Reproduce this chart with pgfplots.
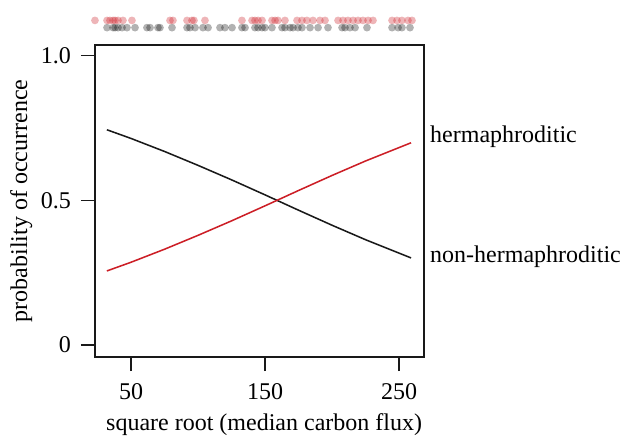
\documentclass[border=0pt]{standalone}
\usepackage{fontspec}
\setmainfont{Liberation Serif}
\usepackage{pgfplots}
\pgfplotsset{compat=1.18}

\definecolor{herm}{RGB}{204,30,38}
\definecolor{nonherm}{RGB}{25,25,25}

\begin{document}
\begin{tikzpicture}[x=1pt,y=1pt]
% picture is 620x435 px, 1px = 0.75pt
\useasboundingbox (-71.25,-58.5) rectangle (393.75,267.75);
\begin{axis}[
  at={(0,0)}, anchor=south west,
  scale only axis,
  width=246.75pt, height=234pt,
  xmin=23.13, xmax=268.66,
  ymin=-0.0415, ymax=1.037,
  clip=false,
  axis line style={line width=1.1pt, color=nonherm},
  every tick/.style={line width=1.1pt, color=nonherm},
  tick align=outside,
  tick pos=left,
  major tick length=10.5pt,
  xtick={50,150,250},
  ytick={0,0.5,1},
  yticklabels={0,0.5,1.0},
  font=\fontsize{18}{21}\selectfont,
  /pgf/number format/assume math mode=true,
  xticklabel style={yshift=-6pt},
  yticklabel style={xshift=-4pt},
  xlabel={square root (median carbon flux)},
  xlabel style={at={(axis description cs:0.514,-0.237)}, anchor=base},
  ylabel={probability of occurrence},
  ylabel style={at={(axis description cs:-0.224,0.5)}, anchor=center},
]
% rug of observations (hermaphroditic)
\addplot [only marks, mark=*, mark size=2.9pt, color=herm,
  mark options={line width=0pt, draw opacity=0, fill=herm, fill opacity=0.33}]
coordinates {
(23.1,1.122) (32.1,1.122) (34.3,1.122) (36.6,1.122) (38.1,1.122) (40.3,1.122)
(44.0,1.122) (50.7,1.122) (79.1,1.122) (81.3,1.122) (91.8,1.122) (95.5,1.122)
(97.0,1.122) (105.2,1.122) (132.8,1.122) (140.3,1.122) (142.5,1.122) (144.8,1.122)
(147.8,1.122) (155.2,1.122) (157.5,1.122) (159.7,1.122) (164.9,1.122) (173.9,1.122)
(177.6,1.122) (181.3,1.122) (185.8,1.122) (191.0,1.122) (194.8,1.122) (204.5,1.122)
(208.2,1.122) (211.9,1.122) (215.7,1.122) (219.4,1.122) (223.1,1.122) (226.9,1.122)
(230.6,1.122) (244.8,1.122) (248.5,1.122) (252.2,1.122) (256.7,1.122) (259.7,1.122)
};
% rug of observations (non-hermaphroditic)
\addplot [only marks, mark=*, mark size=2.9pt, color=black,
  mark options={line width=0pt, draw opacity=0, fill=black, fill opacity=0.3}]
coordinates {
(32.1,1.097) (36.6,1.097) (38.1,1.097) (40.3,1.097) (43.3,1.097) (47.0,1.097)
(53.0,1.097) (61.9,1.097) (64.2,1.097) (70.1,1.097) (71.6,1.097) (80.6,1.097)
(91.8,1.097) (94.0,1.097) (97.8,1.097) (103.7,1.097) (107.5,1.097) (116.4,1.097)
(120.1,1.097) (125.4,1.097) (132.8,1.097) (135.1,1.097) (142.5,1.097) (144.8,1.097)
(147.8,1.097) (150.0,1.097) (155.2,1.097) (162.7,1.097) (164.9,1.097) (168.7,1.097)
(170.9,1.097) (174.6,1.097) (177.6,1.097) (183.6,1.097) (189.6,1.097) (197.0,1.097)
(207.5,1.097) (209.7,1.097) (213.4,1.097) (217.2,1.097) (226.1,1.097) (244.8,1.097)
(249.3,1.097) (252.2,1.097) (258.2,1.097)
};
% fitted curves
\addplot [line width=1.15pt, nonherm] coordinates {
(32,0.744) (50,0.714) (75,0.669) (100,0.621) (125,0.571) (150,0.519)
(175,0.466) (200,0.414) (225,0.364) (259,0.301)
};
\addplot [line width=1.15pt, herm] coordinates {
(32,0.256) (50,0.286) (75,0.331) (100,0.379) (125,0.429) (150,0.481)
(175,0.534) (200,0.586) (225,0.636) (259,0.699)
};
\node[anchor=west, inner sep=0pt] at (axis description cs:1.018,0.705) {hermaphroditic};
\node[anchor=west, inner sep=0pt] at (axis description cs:1.018,0.321) {non-hermaphroditic};
\end{axis}
\end{tikzpicture}
\end{document}
